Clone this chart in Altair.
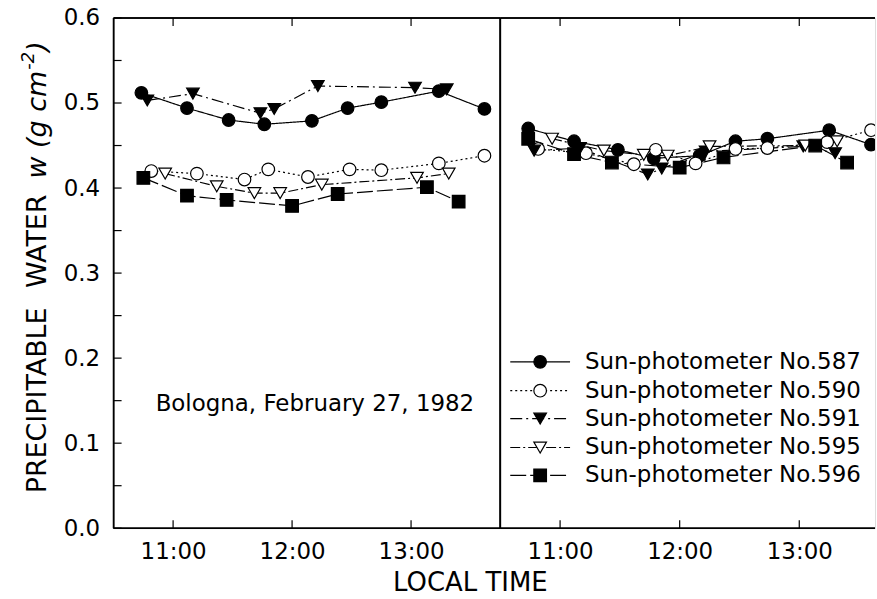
import altair as alt
import pandas as pd

FONT = "DejaVu Sans"

# Sun-photometer series: local time of each reading and precipitable water w (g cm^-2)
SERIES = [
    "Sun-photometer No.587",
    "Sun-photometer No.590",
    "Sun-photometer No.591",
    "Sun-photometer No.595",
    "Sun-photometer No.596",
]

# left panel
t587_a = ["10:44", "11:07", "11:28", "11:46", "12:10", "12:28", "12:45", "13:14", "13:37"]
w587_a = [0.512, 0.494, 0.480, 0.475, 0.479, 0.494, 0.501, 0.514, 0.493]
t590_a = ["10:49", "11:12", "11:36", "11:48", "12:08", "12:29", "12:45", "13:14", "13:37"]
w590_a = [0.420, 0.417, 0.410, 0.422, 0.413, 0.422, 0.421, 0.429, 0.438]
t591_a = ["10:47", "11:10", "11:44", "11:51", "12:13", "13:02", "13:18"]
w591_a = [0.503, 0.511, 0.488, 0.493, 0.520, 0.518, 0.516]
t595_a = ["10:56", "11:22", "11:41", "11:54", "12:15", "13:03", "13:19"]
w595_a = [0.417, 0.402, 0.394, 0.394, 0.404, 0.412, 0.417]
t596_a = ["10:45", "11:07", "11:27", "12:00", "12:23", "13:08", "13:24"]
w596_a = [0.412, 0.391, 0.386, 0.379, 0.393, 0.401, 0.384]

# right panel
t587_b = ["10:44", "11:07", "11:29", "11:47", "12:10", "12:28", "12:44", "13:15", "13:36"]
w587_b = [0.470, 0.455, 0.445, 0.435, 0.438, 0.455, 0.458, 0.468, 0.451]
t590_b = ["10:49", "11:13", "11:37", "11:48", "12:08", "12:28", "12:44", "13:14", "13:36"]
w590_b = [0.446, 0.441, 0.428, 0.445, 0.429, 0.446, 0.447, 0.454, 0.468]
t591_b = ["10:47", "11:10", "11:44", "11:51", "12:13", "13:02", "13:18"]
w591_b = [0.444, 0.447, 0.416, 0.423, 0.443, 0.449, 0.441]
t595_b = ["10:56", "11:22", "11:42", "11:54", "12:15", "13:03", "13:19"]
w595_b = [0.458, 0.444, 0.439, 0.438, 0.449, 0.450, 0.455]
t596_b = ["10:44", "11:07", "11:26", "12:00", "12:22", "13:08", "13:24"]
w596_b = [0.458, 0.440, 0.430, 0.424, 0.436, 0.450, 0.430]

Y_TICKS = [0.0, 0.05, 0.1, 0.15, 0.2, 0.25, 0.3, 0.35, 0.4, 0.45, 0.5, 0.55, 0.6]
Y_LABELS = [0.0, 0.1, 0.2, 0.3, 0.4, 0.5, 0.6]
X_TICKS = [11, 12, 13]

SHAPES = ["circle", "circle", "triangle-down", "triangle-down", "square"]
FILLS = ["black", "white", "black", "white", "black"]
DASHES = [[1, 0], [2, 3], [12, 4, 2, 4], [10, 3, 2, 3], [16, 4]]


def to_hours(stamps):
    return [int(s[:2]) + int(s[3:]) / 60 for s in stamps]


def panel_frame(pairs):
    rows = []
    for name, (times, values) in zip(SERIES, pairs):
        for h, w in zip(to_hours(times), values):
            rows.append({"series": name, "hours": h, "w": w})
    return pd.DataFrame(rows)


left_df = panel_frame([(t587_a, w587_a), (t590_a, w590_a), (t591_a, w591_a),
                       (t595_a, w595_a), (t596_a, w596_a)])
right_df = panel_frame([(t587_b, w587_b), (t590_b, w590_b), (t591_b, w591_b),
                        (t595_b, w595_b), (t596_b, w596_b)])

H = 512
WL = 388
WR = 376
LW = 1.5

y_scale = alt.Scale(domain=[0, 0.6], nice=False, zero=False)
dash_scale = alt.Scale(domain=SERIES, range=DASHES)
shape_scale = alt.Scale(domain=SERIES, range=SHAPES)
fill_scale = alt.Scale(domain=SERIES, range=FILLS)


def x_axis():
    return alt.Axis(values=X_TICKS, labelExpr="datum.value + ':00'", ticks=False,
                    domain=False, grid=False, labelFontSize=23, labelFont=FONT,
                    labelColor="black", labelPadding=12, title=None)


def y_axis(show):
    if not show:
        return None
    return alt.Axis(values=Y_LABELS, format=".1f", ticks=False, domain=False,
                    grid=False, labelFontSize=23, labelFont=FONT,
                    labelColor="black", labelPadding=14, title=None)


def panel(df, domain, width, with_y_axis):
    x_scale = alt.Scale(domain=domain, nice=False, zero=False)
    base = alt.Chart(df)
    xenc = alt.X("hours:Q", scale=x_scale, axis=x_axis())
    yenc = alt.Y("w:Q", scale=y_scale, axis=y_axis(with_y_axis))
    lines = base.mark_line(color="black", strokeWidth=1.2, clip=True).encode(
        x=xenc, y=yenc, detail="series:N", order="hours:Q",
        strokeDash=alt.StrokeDash("series:N", scale=dash_scale, legend=None),
    )
    points = base.mark_point(filled=True, stroke="black", strokeWidth=1.2, opacity=1,
                             size=160, clip=True).encode(
        x=xenc, y=yenc,
        shape=alt.Shape("series:N", scale=shape_scale, legend=None),
        fill=alt.Fill("series:N", scale=fill_scale, legend=None),
    )
    xt = pd.DataFrame({"hours": X_TICKS})
    xt_bottom = alt.Chart(xt).mark_rule(color="black", strokeWidth=1.2).encode(
        x=xenc, y=alt.value(H), y2=alt.value(H - 8))
    xt_top = alt.Chart(xt).mark_rule(color="black", strokeWidth=1.2).encode(
        x=xenc, y=alt.value(0), y2=alt.value(8))
    frame = pd.DataFrame({"edge": ["top", "bottom"]})
    top = alt.Chart(frame).mark_rule(color="black", strokeWidth=LW).encode(
        x=alt.value(0), x2=alt.value(width), y=alt.value(0))
    bottom = alt.Chart(frame).mark_rule(color="black", strokeWidth=LW).encode(
        x=alt.value(0), x2=alt.value(width), y=alt.value(H))
    left_edge = alt.Chart(frame).mark_rule(color="black", strokeWidth=LW).encode(
        x=alt.value(0), y=alt.value(0), y2=alt.value(H))
    layers = [lines, points, top, bottom, left_edge, xt_bottom, xt_top]
    if with_y_axis:
        yt = alt.Chart(pd.DataFrame({"w": Y_TICKS})).mark_rule(color="black", strokeWidth=1.2).encode(
            y=yenc, x=alt.value(0), x2=alt.value(8))
        layers.append(yt)
    return layers


left_layers = panel(left_df, [10.5, 13.75], WL, True)

# site and date annotation
note = alt.Chart(pd.DataFrame({"t": ["Bologna, February 27, 1982"]})).mark_text(
    font=FONT, fontSize=23, align="center", baseline="middle", color="black").encode(
    text="t:N", x=alt.value(202), y=alt.value(387))

# y-axis title, built from pieces so the unit can carry italics and a superscript
TITLE_SIZE = 27
yt_main = alt.Chart(pd.DataFrame({"t": ["PRECIPITABLE"]})).mark_text(
    font=FONT, fontSize=TITLE_SIZE, angle=270, align="left", baseline="middle",
    color="black").encode(text="t:N", x=alt.value(-76), y=alt.value(477))
yt_water = alt.Chart(pd.DataFrame({"t": ["WATER"]})).mark_text(
    font=FONT, fontSize=TITLE_SIZE, angle=270, align="left", baseline="middle",
    color="black").encode(text="t:N", x=alt.value(-76), y=alt.value(271))
yt_unit = alt.Chart(pd.DataFrame({"t": ["w (g cm"]})).mark_text(
    font=FONT, fontSize=TITLE_SIZE, fontStyle="italic", angle=270, align="left",
    baseline="middle", color="black").encode(text="t:N", x=alt.value(-76), y=alt.value(161))
yt_exp = alt.Chart(pd.DataFrame({"t": ["-2"]})).mark_text(
    font=FONT, fontSize=18, fontStyle="italic", angle=270, align="left",
    baseline="middle", color="black").encode(text="t:N", x=alt.value(-85), y=alt.value(52))
yt_close = alt.Chart(pd.DataFrame({"t": [")"]})).mark_text(
    font=FONT, fontSize=TITLE_SIZE, fontStyle="italic", angle=270, align="left",
    baseline="middle", color="black").encode(text="t:N", x=alt.value(-76), y=alt.value(34))

xtitle = alt.Chart(pd.DataFrame({"t": ["LOCAL TIME"]})).mark_text(
    font=FONT, fontSize=26, align="center", baseline="middle", color="black").encode(
    text="t:N", x=alt.value(358), y=alt.value(567))

divider = alt.Chart(pd.DataFrame({"edge": ["divider"]})).mark_rule(color="black", strokeWidth=LW).encode(
    x=alt.value(WL), y=alt.value(0), y2=alt.value(H))

left = alt.layer(*left_layers, divider, note, yt_main, yt_water, yt_unit, yt_exp, yt_close,
                 xtitle).properties(width=WL, height=H)

right_layers = panel(right_df, [10.5, 10.5 + WR / 120], WR, False)

# legend: a line sample with its marker and the instrument name, one row per series
legend_layers = []
row_y = [345, 374, 402, 431, 459]
for i, name in enumerate(SERIES):
    one = pd.DataFrame({"series": [name]})
    legend_layers.append(alt.Chart(one).mark_rule(color="black", strokeWidth=1.2,
                                                  strokeDash=DASHES[i]).encode(
        x=alt.value(10), x2=alt.value(70), y=alt.value(row_y[i])))
    legend_layers.append(alt.Chart(one).mark_point(shape=SHAPES[i], filled=True, fill=FILLS[i],
                                                   stroke="black", strokeWidth=1.2, opacity=1,
                                                   size=160).encode(
        x=alt.value(40), y=alt.value(row_y[i])))
    legend_layers.append(alt.Chart(one).mark_text(font=FONT, fontSize=23, align="left",
                                                  baseline="middle", color="black").encode(
        text="series:N", x=alt.value(85), y=alt.value(row_y[i])))

right = alt.layer(*right_layers, *legend_layers).properties(width=WR, height=H)

chart = alt.hconcat(left, right, spacing=0, bounds="flush").properties(
    padding={"left": 19, "top": 5, "right": 0, "bottom": 2}
).configure_view(strokeWidth=0).configure(font=FONT)

chart.save("out.html", embed_options={"renderer": "svg", "actions": False})
